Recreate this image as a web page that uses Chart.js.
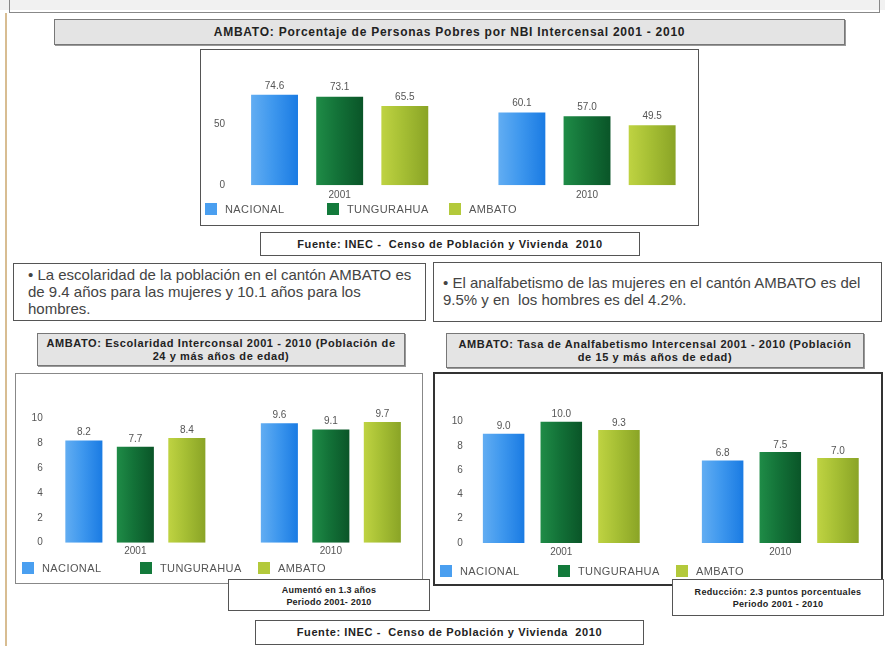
<!DOCTYPE html>
<html>
<head>
<meta charset="utf-8">
<script src="https://cdn.jsdelivr.net/npm/chart.js@4"></script>
<style>
  body { margin: 0; width: 885px; height: 646px; overflow: hidden; position: relative; background: #fff;
         font-family: "Liberation Sans", Arial, sans-serif; color: #333; }
  .abs { position: absolute; box-sizing: border-box; }
  .titulo { background: #e4e4e4; border: 1px solid #777; box-shadow: 1px 1px 0 #999;
            font-weight: bold; text-align: center; color: #222; }
  .caja { border: 1px solid #555; background: #fff; }
  .fuente { border: 1px solid #555; background: #fff; font-weight: bold; font-size: 11px; letter-spacing: 0.6px;
            text-align: center; white-space: pre; color: #222; }
  .nota { border: 1px solid #555; background: #fff; font-size: 15px; color: #444; line-height: 17px; }
  .anot { border: 1px solid #555; background: #fff; font-weight: bold; font-size: 9px;
          text-align: center; line-height: 12px; color: #222; z-index: 3; }
  canvas { position: absolute; z-index: 2; }
  .leyenda { position: absolute; display: flex; z-index: 2; font-size: 11px; letter-spacing: 0.4px; color: #555; }
  .leyenda div { display: flex; align-items: center; }
  .leyenda span { display: inline-block; width: 12px; height: 12px; margin-right: 8px; }
</style>
</head>
<body>
<div class="abs" style="left:0;top:0;width:885px;height:10px;background:#f1f1f1;"></div>
<div class="abs" style="left:9px;top:-2px;width:871px;height:15px;border:1px solid #888;border-top:none;"></div>
<div class="abs" style="left:5px;top:13px;width:2px;height:640px;background:#d8bd92;"></div>

<div class="abs titulo" style="left:54px;top:19px;width:791px;height:26px;font-size:12px;letter-spacing:0.75px;line-height:24px;">AMBATO: Porcentaje de Personas Pobres por NBI Intercensal 2001 - 2010</div>
<div class="abs caja" style="left:200px;top:49px;width:499px;height:177px;border-width:1.5px;"></div>
<canvas id="g1" style="left:201px;top:50px;width:519px;height:156px;" width="519" height="156"></canvas>
<div class="leyenda" id="l1" style="left:205px;top:203px;"></div>
<div class="abs fuente" style="left:260px;top:232px;width:380px;height:24px;line-height:22px;">Fuente: INEC -  Censo de Población y Vivienda  2010</div>

<div class="abs nota" style="left:13px;top:263px;width:413px;height:58px;padding:2px 0 0 14px;">• La escolaridad de la población en el cantón AMBATO es<br>de 9.4 años para las mujeres y 10.1 años para los<br>hombres.</div>
<div class="abs nota" style="left:433px;top:262px;width:449px;height:60px;padding:11px 0 0 9px;">• El analfabetismo de las mujeres en el cantón AMBATO es del<br>9.5% y en&nbsp; los hombres es del 4.2%.</div>

<div class="abs titulo" style="left:37px;top:333px;width:368px;height:33px;font-size:11px;letter-spacing:0.6px;line-height:13px;padding-top:3px;">AMBATO: Escolaridad Interconsal 2001 - 2010 (Población de<br>24 y más años de edad)</div>
<div class="abs titulo" style="left:446px;top:333px;width:418px;height:35px;font-size:11px;letter-spacing:0.6px;line-height:13px;padding-top:4px;">AMBATO: Tasa de Analfabetismo Intercensal 2001 - 2010 (Población<br>de 15 y más años de edad)</div>

<div class="abs caja" style="left:15px;top:373px;width:408px;height:211px;border-color:#888;"></div>
<canvas id="g2" style="left:16px;top:374px;width:416px;height:189px;" width="416" height="189"></canvas>
<div class="leyenda" id="l2" style="left:22px;top:562px;"></div>
<div class="abs anot" style="left:228px;top:579px;width:202px;height:32px;padding-top:4px;letter-spacing:0.2px;">Aumentó en 1.3 años<br>Periodo 2001- 2010</div>

<div class="abs caja" style="left:433px;top:372px;width:450px;height:214px;border:2px solid #333;"></div>
<canvas id="g3" style="left:435px;top:373px;width:456px;height:190px;" width="456" height="190"></canvas>
<div class="leyenda" id="l3" style="left:440px;top:565px;"></div>
<div class="abs anot" style="left:672px;top:579px;width:212px;height:37px;padding-top:6px;letter-spacing:0.35px;">Reducción: 2.3 puntos porcentuales<br>Periodo 2001 - 2010</div>

<div class="abs fuente" style="left:255px;top:620px;width:389px;height:25px;line-height:23px;">Fuente: INEC -  Censo de Población y Vivienda  2010</div>

<script>
// categorias y series
const anios = ['2001', '2010'];
const series = ['NACIONAL', 'TUNGURAHUA', 'AMBATO'];
const coloresLeyenda = ['#4a9ff0', '#137a3b', '#b3c93b'];
const gradientes = [
    ['#62adf2', '#3f98ee', '#1a7be3'],
    ['#1f8c47', '#137238', '#0a5528'],
    ['#bfd342', '#a6bf34', '#8aa426']
];

// Porcentaje de personas pobres por NBI
const pobresNacional = [74.6, 60.1];
const pobresTungurahua = [73.1, 57.0];
const pobresAmbato = [65.5, 49.5];
const ticksPobres = [0, 50];

// Escolaridad
const escolaridadNacional = [8.2, 9.6];
const escolaridadTungurahua = [7.7, 9.1];
const escolaridadAmbato = [8.4, 9.7];
const ticksEscolaridad = [0, 2, 4, 6, 8, 10];

// Tasa de analfabetismo
const analfabetismoNacional = [9.0, 6.8];
const analfabetismoTungurahua = [10.0, 7.5];
const analfabetismoAmbato = [9.3, 7.0];
const ticksAnalfabetismo = [0, 2, 4, 6, 8, 10];

// degradado horizontal en cada barra
const degradado = {
    id: 'degradado',
    beforeDatasetsDraw(chart) {
        const ctx = chart.ctx;
        chart.data.datasets.forEach((ds, i) => {
            chart.getDatasetMeta(i).data.forEach(bar => {
                const x0 = bar.x - bar.width / 2;
                const g = ctx.createLinearGradient(x0, 0, x0 + bar.width, 0);
                g.addColorStop(0, gradientes[i][0]);
                g.addColorStop(0.45, gradientes[i][1]);
                g.addColorStop(1, gradientes[i][2]);
                bar.options.backgroundColor = g;
            });
        });
    }
};

// valores encima de las barras
const etiquetas = {
    id: 'etiquetas',
    afterDatasetsDraw(chart, args, opts) {
        const ctx = chart.ctx;
        ctx.save();
        ctx.font = '10px "Liberation Sans", Arial';
        ctx.fillStyle = '#555';
        ctx.textAlign = 'center';
        ctx.textBaseline = 'middle';
        chart.data.datasets.forEach((ds, i) => {
            chart.getDatasetMeta(i).data.forEach((bar, j) => {
                ctx.fillText(ds.data[j].toFixed(1), bar.x, bar.y - opts.gap);
            });
        });
        ctx.restore();
    }
};

function crearGrafico(id, datos, ticks, maximo, g) {
    new Chart(document.getElementById(id), {
        type: 'bar',
        data: {
            labels: anios,
            datasets: datos.map((d, i) => ({
                label: series[i],
                data: d,
                backgroundColor: c => coloresLeyenda[c.datasetIndex],
                barPercentage: 0.72,
                categoryPercentage: 0.79
            }))
        },
        options: {
            responsive: false,
            animation: false,
            layout: { padding: g.padding },
            plugins: { legend: { display: false }, tooltip: { enabled: false }, etiquetas: { gap: g.gap } },
            scales: {
                x: {
                    grid: { display: false, drawTicks: false },
                    border: { display: false },
                    ticks: { color: '#555', font: { size: 10, family: '"Liberation Sans", Arial' }, padding: g.xPad },
                    afterFit: s => { s.height = 20; }
                },
                y: {
                    min: 0, max: maximo,
                    grid: { display: false, drawTicks: false },
                    border: { display: false },
                    ticks: { color: '#555', font: { size: 10, family: '"Liberation Sans", Arial' },
                             mirror: true, crossAlign: 'far', padding: g.yPad },
                    afterBuildTicks: s => { s.ticks = ticks.map(v => ({ value: v })); },
                    afterFit: s => { s.width = g.yWidth; }
                }
            }
        },
        plugins: [degradado, etiquetas]
    });
}

function crearLeyenda(id, ancho) {
    const cont = document.getElementById(id);
    series.forEach((nombre, i) => {
        const item = document.createElement('div');
        item.style.width = ancho + 'px';
        item.innerHTML = '<span style="background:' + coloresLeyenda[i] + '"></span>' + nombre;
        cont.appendChild(item);
    });
}

crearGrafico('g1', [pobresNacional, pobresTungurahua, pobresAmbato], ticksPobres, 80,
    { padding: { top: 38.3, right: 9.3, bottom: 0.7, left: 0 }, yWidth: 15, yPad: -2, xPad: 4, gap: 9 });
crearGrafico('g2', [escolaridadNacional, escolaridadTungurahua, escolaridadAmbato], ticksEscolaridad, 10,
    { padding: { top: 44.2, right: 3.4, bottom: 0.3, left: 0 }, yWidth: 21.6, yPad: -6, xPad: 3, gap: 8 });
crearGrafico('g3', [analfabetismoNacional, analfabetismoTungurahua, analfabetismoAmbato], ticksAnalfabetismo, 10,
    { padding: { top: 48.5, right: 1.2, bottom: 0, left: 0 }, yWidth: 16.8, yPad: 0, xPad: 3, gap: 7 });

crearLeyenda('l1', 122);
crearLeyenda('l2', 118);
crearLeyenda('l3', 118);
</script>
</body>
</html>
